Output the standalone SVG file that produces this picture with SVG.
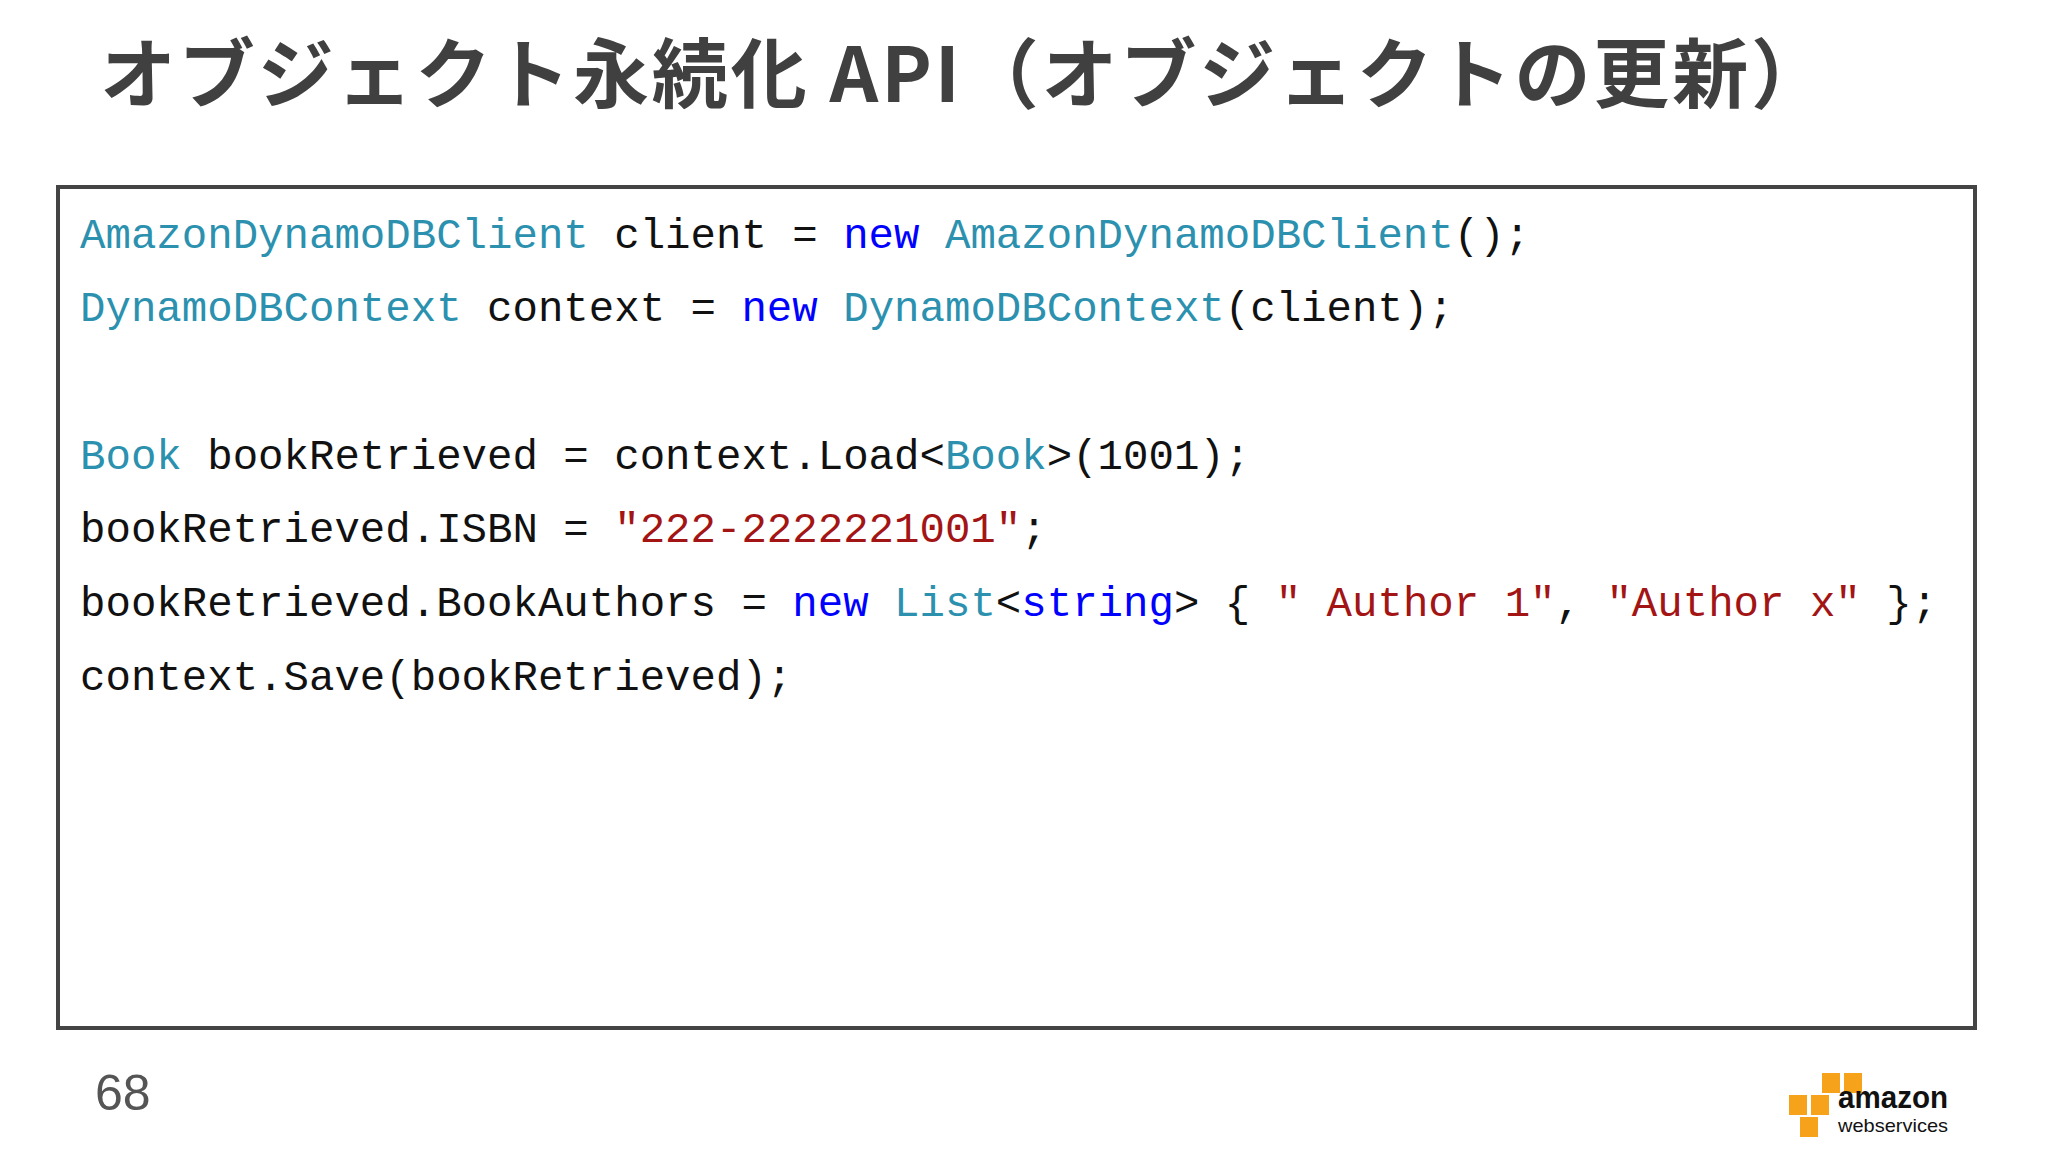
<svg xmlns="http://www.w3.org/2000/svg" width="2048" height="1152" viewBox="0 0 2048 1152">
<style>
.code{font-family:"Liberation Mono","DejaVu Sans Mono",monospace;font-size:42.4px;fill:#111}
.t{fill:#2b91af}.k{fill:#0000ff}.s{fill:#a31515}
.cube{fill:#f7a21b}
</style>
<rect width="2048" height="1152" fill="#fff"/>
<g id="title"><text x="100" y="102" font-family="'Noto Sans CJK JP','Noto Sans',sans-serif" font-weight="bold" font-size="76" fill="#404040" textLength="1727" lengthAdjust="spacing">オブジェクト永続化 API（オブジェクトの更新）</text></g>
<g id="codebox">
<rect x="58" y="187" width="1917" height="841" fill="#fff" stroke="#444" stroke-width="4"/>
<text class="code" xml:space="preserve" x="80" y="248"><tspan class="t">AmazonDynamoDBClient</tspan> client = <tspan class="k">new</tspan> <tspan class="t">AmazonDynamoDBClient</tspan>();</text>
<text class="code" xml:space="preserve" x="80" y="321"><tspan class="t">DynamoDBContext</tspan> context = <tspan class="k">new</tspan> <tspan class="t">DynamoDBContext</tspan>(client);</text>
<text class="code" xml:space="preserve" x="80" y="469"><tspan class="t">Book</tspan> bookRetrieved = context.Load&lt;<tspan class="t">Book</tspan>&gt;(1001);</text>
<text class="code" xml:space="preserve" x="80" y="542">bookRetrieved.ISBN = <tspan class="s">"222-2222221001"</tspan>;</text>
<text class="code" xml:space="preserve" x="80" y="616">bookRetrieved.BookAuthors = <tspan class="k">new</tspan> <tspan class="t">List</tspan>&lt;<tspan class="k">string</tspan>&gt; { <tspan class="s">" Author 1"</tspan>, <tspan class="s">"Author x"</tspan> };</text>
<text class="code" xml:space="preserve" x="80" y="690">context.Save(bookRetrieved);</text>
</g>
<g id="pagenum"><text x="95" y="1110" font-family="'Liberation Sans',sans-serif" font-size="50" fill="#555">68</text></g>
<g id="logo">
<rect class="cube" x="1822" y="1073" width="18" height="20"/><rect class="cube" x="1844" y="1073" width="18" height="20"/>
<rect class="cube" x="1789" y="1095" width="18" height="20"/><rect class="cube" x="1811" y="1095" width="18" height="20"/>
<rect class="cube" x="1800" y="1117" width="18" height="20"/>
<text x="1838" y="1108" font-family="'Liberation Sans',sans-serif" font-weight="bold" font-size="31" fill="#111" textLength="110" lengthAdjust="spacingAndGlyphs">amazon</text>
<text x="1838" y="1132" font-family="'Liberation Sans',sans-serif" font-size="19" fill="#111" textLength="110" lengthAdjust="spacingAndGlyphs">webservices</text>
</g>
</svg>
